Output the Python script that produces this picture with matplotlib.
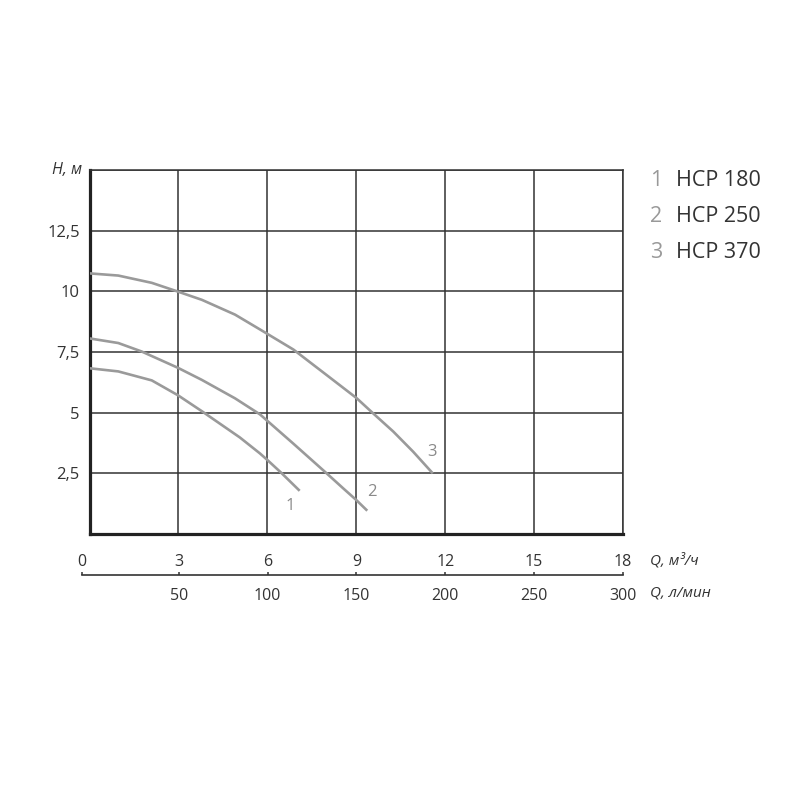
import matplotlib
matplotlib.use("Agg")
import matplotlib.pyplot as plt

plt.rcParams["font.family"] = ["Open Sans", "DejaVu Sans"]

# pump curves: Q in m3/h, H in m
q1 = [0, 0.97, 2.10, 2.98, 3.79, 5.07, 5.75, 6.0, 6.47, 7.09]
h1 = [6.83, 6.70, 6.33, 5.72, 5.06, 3.98, 3.32, 3.05, 2.52, 1.78]
q2 = [0, 0.97, 1.76, 2.98, 3.79, 4.91, 5.75, 6.88, 8.0, 8.56, 9.0, 9.37]
h2 = [8.06, 7.87, 7.52, 6.85, 6.35, 5.59, 4.93, 3.72, 2.50, 1.88, 1.40, 0.96]
q3 = [0, 0.97, 2.10, 2.98, 3.79, 4.91, 5.75, 6.88, 8.0, 9.01, 9.57, 10.25, 10.92, 11.58]
h3 = [10.74, 10.65, 10.35, 9.99, 9.65, 9.04, 8.43, 7.60, 6.55, 5.60, 4.97, 4.22, 3.39, 2.50]

curves = [(q1, h1), (q2, h2), (q3, h3)]
curve_ids = ["1", "2", "3"]
models = ["HCP 180", "HCP 250", "HCP 370"]

x_ticks = [0, 3, 6, 9, 12, 15, 18]
lmin_ticks = [50, 100, 150, 200, 250, 300]
y_ticks = [2.5, 5, 7.5, 10, 12.5]
y_labels = ["2,5", "5", "7,5", "10", "12,5"]

CURVE = "#9a9a9a"
DARK = "#333333"

fig = plt.figure(figsize=(8, 8), dpi=100)
ax = fig.add_axes([0.1119, 0.3325, 0.6669, 0.455])

for (q, h) in curves:
    ax.plot(q, h, color=CURVE, lw=1.9, solid_capstyle="butt",
            solid_joinstyle="round", zorder=3)

# curve numbers
label_pos = [(6.76, 1.15), (9.53, 1.73), (11.55, 3.38)]
for cid, (lx, ly) in zip(curve_ids, label_pos):
    ax.text(lx, ly, cid, color="#8a8a8a", fontsize=12, ha="center", va="center")

ax.set_xlim(0, 18)
ax.set_ylim(0, 15)
ax.set_xticks(x_ticks)
ax.set_yticks(y_ticks + [15])
ax.set_yticklabels(y_labels + [""])
ax.grid(True, color=DARK, lw=1.1)
ax.set_axisbelow(True)
ax.tick_params(axis="x", length=0, labelbottom=False)
ax.tick_params(axis="y", length=0, pad=7, labelsize=12, labelcolor=DARK)
for side in ["top", "right"]:
    ax.spines[side].set_linewidth(1.1)
    ax.spines[side].set_color(DARK)
for side in ["left", "bottom"]:
    ax.spines[side].set_linewidth(2.3)
    ax.spines[side].set_color("#222222")

ax.text(-0.013, 1.0, "H, м", transform=ax.transAxes, ha="right", va="center",
        fontsize=11.5, style="italic", color=DARK)

# separate flow scale below the chart (its zero sits a little left of the grid)
q_off = 8 / 29.64
axq = fig.add_axes([82 / 800, 1 - 575 / 800, (623 - 82) / 800, 0.0001])
axq.set_xlim(-q_off, 18)
axq.set_yticks([])
for side in ["left", "right", "bottom"]:
    axq.spines[side].set_visible(False)
axq.spines["top"].set_color(DARK)
axq.spines["top"].set_linewidth(1.2)
axq.patch.set_visible(False)
axq.xaxis.set_ticks_position("top")
axq.set_xticks([-q_off] + x_ticks[1:])
axq.set_xticklabels([str(t) for t in x_ticks])
axq.tick_params(axis="x", direction="out", length=2.5, width=1.1, color=DARK,
                labelsize=11.5, labelcolor=DARK, pad=1, labeltop=True, labelbottom=False)

sec = axq.secondary_xaxis("bottom", functions=(lambda q: q * 1000 / 60, lambda l: l * 60 / 1000))
sec.set_xticks(lmin_ticks)
sec.tick_params(length=0, labelsize=11.5, labelcolor=DARK, pad=9)
sec.spines["bottom"].set_visible(False)

fig.text(650 / 800, 1 - 561 / 800, "Q, м³/ч", fontsize=11, style="italic",
         color=DARK, ha="left", va="center")
fig.text(650 / 800, 1 - 593 / 800, "Q, л/мин", fontsize=11, style="italic",
         color=DARK, ha="left", va="center")

# legend
for i, (cid, name) in enumerate(zip(curve_ids, models)):
    y = 1 - (180 + i * 36.5) / 800
    fig.text(650 / 800, y, cid, fontsize=15.5, color="#999999", ha="left", va="center")
    fig.text(676 / 800, y, name, fontsize=15.5, color=DARK, ha="left", va="center")

fig.savefig("out.png", dpi=100)
